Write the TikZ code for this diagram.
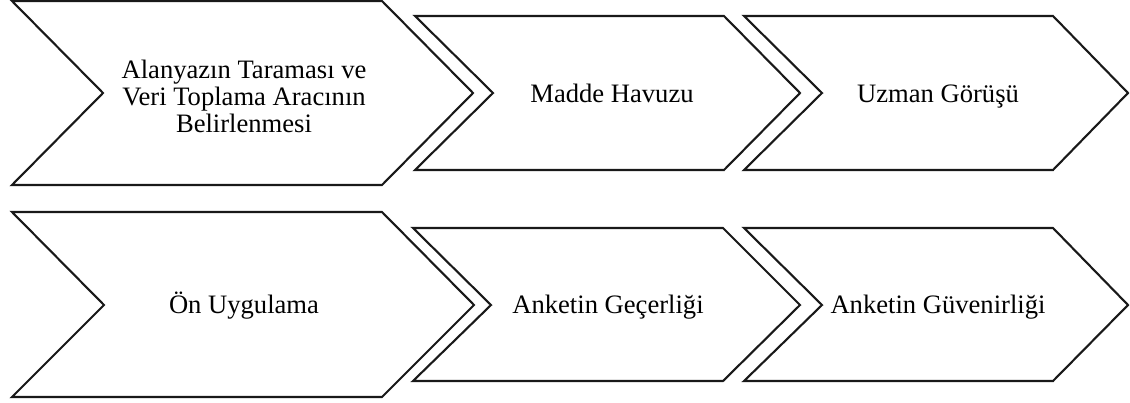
\documentclass[tikz,border=0pt]{standalone}
\usepackage{fontspec}
\setmainfont{Liberation Serif}
\begin{document}
\begin{tikzpicture}[x=1pt,y=-1pt,
  chev/.style={draw=black!90, line width=2.1pt, line join=miter, fill=white},
  lbl/.style={align=center, inner sep=0pt, font=\fontsize{26.6}{27}\selectfont}]
\useasboundingbox (0,0) rectangle (1130,402);
% top row
\draw[chev] (12,1) -- (382,1) -- (473,93) -- (382,185) -- (12,185) -- (103,93) -- cycle;
\draw[chev] (415,16) -- (724,16) -- (800,93) -- (724,170) -- (415,170) -- (493,93) -- cycle;
\draw[chev] (744,16) -- (1053,16) -- (1128,93) -- (1053,170) -- (744,170) -- (822,93) -- cycle;
% bottom row
\draw[chev] (12,212) -- (382,212) -- (474,305) -- (382,397) -- (12,397) -- (104,305) -- cycle;
\draw[chev] (413,228) -- (723,228) -- (800,305) -- (723,381) -- (413,381) -- (491,305) -- cycle;
\draw[chev] (744,228) -- (1053,228) -- (1128,305) -- (1053,381) -- (744,381) -- (822,305) -- cycle;
% labels
\node[lbl] (n1) at (244,96) {Alanyazın Taraması ve\\Veri Toplama Aracının\\Belirlenmesi};
\node[lbl, anchor=base] (n2) at (612,102) {Madde Havuzu};
\node[lbl, anchor=base] (n3) at (938,102) {Uzman Görüşü};
\node[lbl, anchor=base] (n4) at (244,313) {Ön Uygulama};
\node[lbl, anchor=base] (n5) at (608,313) {Anketin Geçerliği};
\node[lbl, anchor=base] (n6) at (938,313) {Anketin Güvenirliği};
\end{tikzpicture}
\end{document}
